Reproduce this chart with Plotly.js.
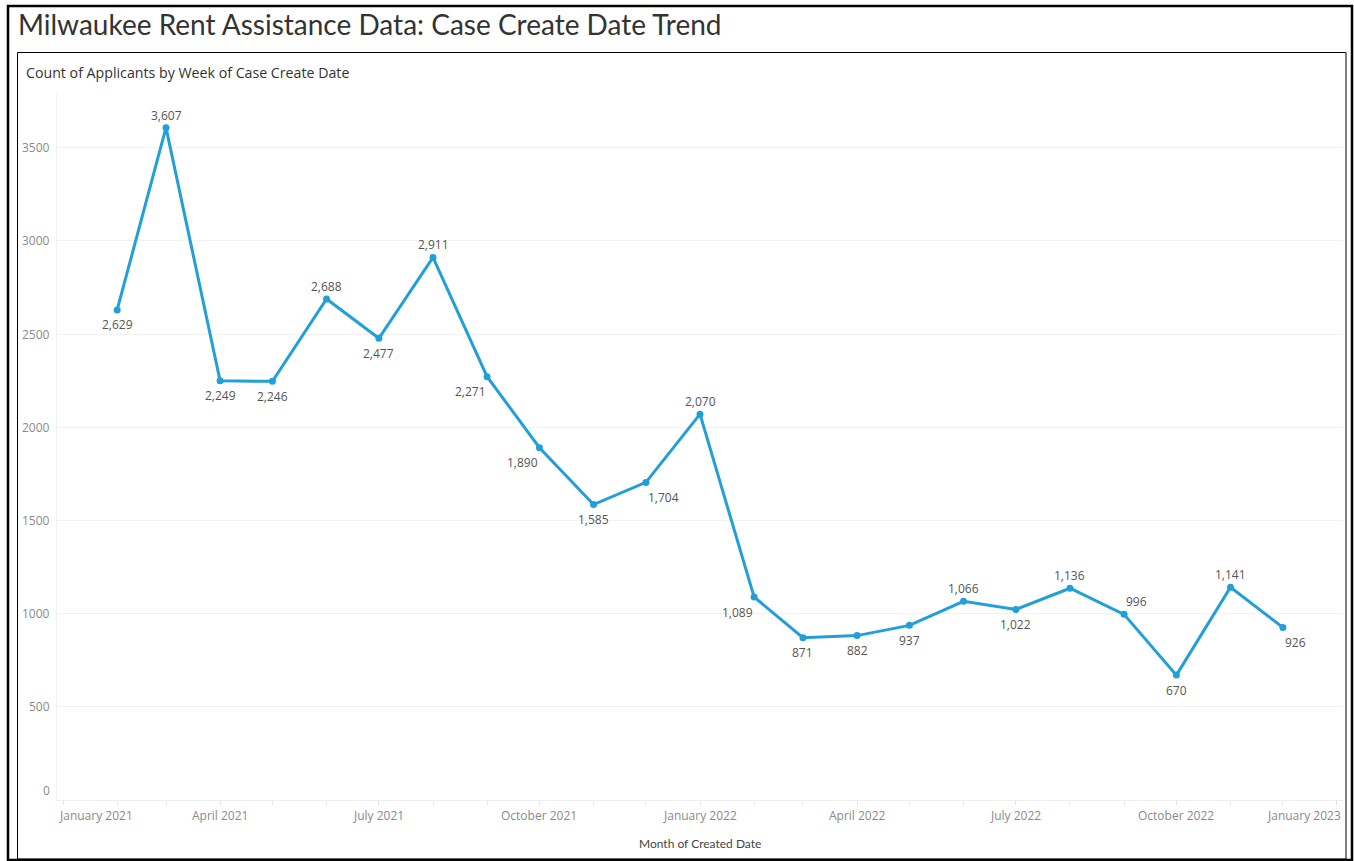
<!DOCTYPE html>
<html>
<head>
<meta charset="utf-8">
<script src="https://cdn.plot.ly/plotly-3.0.1.min.js"></script>
<style>
  html, body { margin: 0; padding: 0; background: #ffffff; }
  #chart { width: 1354px; height: 861px; }
</style>
</head>
<body>
<div id="chart"></div>
<script>
// ---- data ----
const months = [
  '2021-02-01','2021-03-01','2021-04-01','2021-05-01','2021-06-01','2021-07-01',
  '2021-08-01','2021-09-01','2021-10-01','2021-11-01','2021-12-01','2022-01-01',
  '2022-02-01','2022-03-01','2022-04-01','2022-05-01','2022-06-01','2022-07-01',
  '2022-08-01','2022-09-01','2022-10-01','2022-11-01','2022-12-01'
];
const applicants = [
  2629, 3607, 2249, 2246, 2688, 2477,
  2911, 2271, 1890, 1585, 1704, 2070,
  1089, 871, 882, 937, 1066, 1022,
  1136, 996, 670, 1141, 926
];
const xTickDates = ['2021-01-01','2021-04-01','2021-07-01','2021-10-01','2022-01-01',
                    '2022-04-01','2022-07-01','2022-10-01','2023-01-01'];
const xTickLabels = ['January 2021','April 2021','July 2021','October 2021','January 2022',
                     'April 2022','July 2022','October 2022','January 2023'];
const yTicks = [0, 500, 1000, 1500, 2000, 2500, 3000, 3500];

// label placement per point (style)
const labelPos = [
  'bottom center','top center','bottom center','bottom center','top center','bottom center',
  'top center','bottom left','bottom left','bottom center','bottom right','top center',
  'bottom left','bottom center','bottom center','bottom center','top center','bottom center',
  'top center','top right','bottom center','top center','bottom right'
];

// ---- geometry (pixels) ----
const FIG_W = 1354, FIG_H = 861;
const L = 57, R = 1343, T = 93, B = 800;
const W = R - L, H = B - T;
const px = x => (x - L) / W;
const py = y => (B - y) / H;

const tickFont = { family: 'Open Sans, sans-serif', size: 12, color: '#8a8a8a' };
const labelFont = { family: 'Open Sans, sans-serif', size: 12, color: '#555555' };

const annotations = [];
// subtitle
annotations.push({
  text: 'Count of Applicants by Week of Case Create Date',
  xref: 'paper', yref: 'paper', x: px(24), y: py(73),
  xanchor: 'left', yanchor: 'middle', showarrow: false,
  font: { family: 'Open Sans, sans-serif', size: 14.2, color: '#333333' }
});
// x axis title
annotations.push({
  text: 'Month of Created Date',
  xref: 'paper', yref: 'paper', x: px(700), y: py(843),
  xanchor: 'center', yanchor: 'middle', showarrow: false,
  font: { family: 'Lato, sans-serif', size: 12, color: '#444444' }
});
// x tick labels
xTickDates.forEach((d, i) => {
  const first = i === 0, last = i === xTickDates.length - 1;
  annotations.push({
    text: xTickLabels[i],
    xref: first || last ? 'paper' : 'x',
    x: first ? 0 : (last ? 1 : d),
    xanchor: first ? 'left' : (last ? 'right' : 'center'),
    yref: 'paper', y: py(816), yanchor: 'middle',
    showarrow: false, font: tickFont
  });
});
// y tick labels
yTicks.forEach(v => {
  annotations.push({
    text: String(v),
    xref: 'paper', x: px(52), xanchor: 'right',
    yref: 'y', y: v, yanchor: 'middle', yshift: v === 0 ? 10 : 0,
    showarrow: false, font: tickFont
  });
});
// data labels
applicants.forEach((v, i) => {
  const pos = labelPos[i];
  const isTop = pos.startsWith('top');
  const side = pos.split(' ')[1];
  annotations.push({
    text: v.toLocaleString('en-US'),
    xref: 'x', yref: 'y', x: months[i], y: v,
    xanchor: side === 'left' ? 'right' : (side === 'right' ? 'left' : 'center'),
    xshift: side === 'left' ? 1 : 0,
    yanchor: 'middle', yshift: isTop ? 12.5 : -15,
    showarrow: false, font: labelFont
  });
});

const shapes = [
  // outer frame
  { type: 'rect', xref: 'paper', yref: 'paper',
    x0: px(8), x1: px(1352), y0: py(860), y1: py(6),
    line: { color: '#000000', width: 2.5 }, layer: 'above' },
  // inner frame
  { type: 'rect', xref: 'paper', yref: 'paper',
    x0: px(17.5), x1: px(1346), y0: py(859), y1: py(52.5),
    line: { color: '#000000', width: 1 }, layer: 'above' }
];

const trace = {
  type: 'scatter',
  mode: 'lines+markers',
  x: months,
  y: applicants,
  line: { color: '#229fd9', width: 3 },
  marker: { color: '#229fd9', size: 7 },
  cliponaxis: false,
  hoverinfo: 'x+y'
};

const layout = {
  width: FIG_W, height: FIG_H,
  margin: { l: L, r: FIG_W - R, t: T, b: FIG_H - B, pad: 0 },
  paper_bgcolor: '#ffffff', plot_bgcolor: '#ffffff',
  showlegend: false,
  title: {
    text: 'Milwaukee Rent Assistance Data: Case Create Date Trend',
    xref: 'container', yref: 'container',
    x: 18 / FIG_W, xanchor: 'left',
    y: 1 - 25 / FIG_H, yanchor: 'middle',
    font: { family: 'Lato, sans-serif', size: 28, color: '#333333' }
  },
  xaxis: {
    type: 'date',
    range: ['2020-12-28 13:00', '2023-01-04 11:00'],
    tickvals: xTickDates,
    showticklabels: false,
    ticks: 'outside', ticklen: 4, tickcolor: '#e2e2e2', tickwidth: 1,
    minor: { tick0: '2021-01-01', dtick: 'M1', ticks: 'outside', ticklen: 4,
             tickcolor: '#e8e8e8', tickwidth: 1, showgrid: false },
    showgrid: false,
    showline: true, linecolor: '#eeeeee', linewidth: 1,
    zeroline: false, fixedrange: true
  },
  yaxis: {
    range: [0, 3793],
    tickvals: yTicks,
    showticklabels: false,
    ticks: '',
    showgrid: true, gridcolor: '#f2f2f2', gridwidth: 1,
    showline: true, linecolor: '#f0f0f0', linewidth: 1,
    zeroline: true, zerolinecolor: '#eeeeee', zerolinewidth: 1,
    fixedrange: true
  },
  annotations: annotations,
  shapes: shapes
};

Plotly.newPlot('chart', [trace], layout, { displayModeBar: false, staticPlot: true });
</script>
</body>
</html>
